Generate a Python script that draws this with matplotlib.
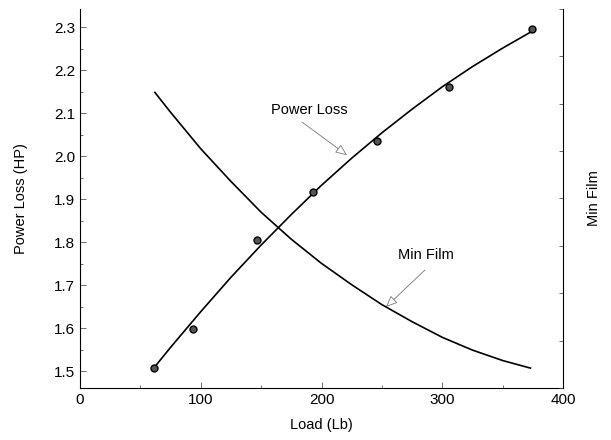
import matplotlib.pyplot as plt
from matplotlib.ticker import MultipleLocator, NullFormatter
import numpy as np

plt.rcParams['font.family'] = ['Liberation Sans', 'DejaVu Sans']

# measured points (power loss)
load_pts = [61, 93.5, 146.6, 193, 246, 305.6, 374]
power_pts = [1.507, 1.598, 1.805, 1.916, 2.035, 2.160, 2.295]

# fitted curves
curve_load = [62, 75, 100, 125, 150, 175, 200, 225, 250, 275, 300, 325, 350, 373]
power_curve = [1.510, 1.555, 1.638, 1.718, 1.793, 1.864, 1.932, 1.995,
               2.054, 2.109, 2.161, 2.208, 2.251, 2.288]
film_curve = [6.24, 5.82, 5.05, 4.36, 3.71, 3.14, 2.63, 2.18,
              1.76, 1.40, 1.07, 0.80, 0.58, 0.42]

fig = plt.figure(figsize=(6.11, 4.40), dpi=100)
ax = fig.add_axes([80/611, 52/440, 483/611, 379/440])

ax.plot(curve_load, power_curve, color='black', lw=1.2)
ax.plot(load_pts, power_pts, 'o', ms=5, mfc='#555555', mec='black', mew=1.0)

ax.set_xlim(0, 400)
ax.set_ylim(1.4605, 2.342)
ax.xaxis.set_major_locator(MultipleLocator(100))
ax.xaxis.set_minor_locator(MultipleLocator(50))
ax.yaxis.set_major_locator(MultipleLocator(0.1))
ax.yaxis.set_minor_locator(MultipleLocator(0.05))
ax.yaxis.set_major_formatter(plt.FormatStrFormatter('%.1f'))
ax.tick_params(which='both', direction='in', labelsize=11, width=0.6, color='#555555')
ax.tick_params(which='major', length=4)
ax.tick_params(which='minor', length=2.5)
ax.spines['top'].set_visible(False)
ax.spines['right'].set_visible(False)
ax.set_xlabel('Load (Lb)', fontsize=10.5, labelpad=8)
ax.set_ylabel('Power Loss (HP)', fontsize=10.5, labelpad=19)

ax2 = ax.twinx()
ax2.plot(curve_load, film_curve, color='black', lw=1.2)
ax2.set_ylim(0, 8)
ax2.yaxis.set_major_locator(MultipleLocator(1))
ax2.yaxis.set_major_formatter(NullFormatter())
ax2.tick_params(direction='in', length=3, width=0.6, color='#555555')
ax2.spines['top'].set_visible(False)
ax2.spines['left'].set_visible(False)
ax2.spines['bottom'].set_visible(False)
ax2.set_ylabel('Min Film', fontsize=10.5, labelpad=14)

arrow = dict(arrowstyle='-|>,head_length=0.7,head_width=0.3', fc='white',
             ec='#777777', lw=0.6, shrinkA=0, shrinkB=0)
ax.text(189.7, 2.107, 'Power Loss', fontsize=10.5, ha='center', va='center')
ax.annotate('', xy=(221.1, 2.002), xytext=(183.9, 2.079), arrowprops=arrow)
ax.text(286.5, 1.77, 'Min Film', fontsize=10.5, ha='center', va='center')
ax.annotate('', xy=(253.4, 1.649), xytext=(285.7, 1.735), arrowprops=arrow)

fig.savefig('out.png', dpi=100)
